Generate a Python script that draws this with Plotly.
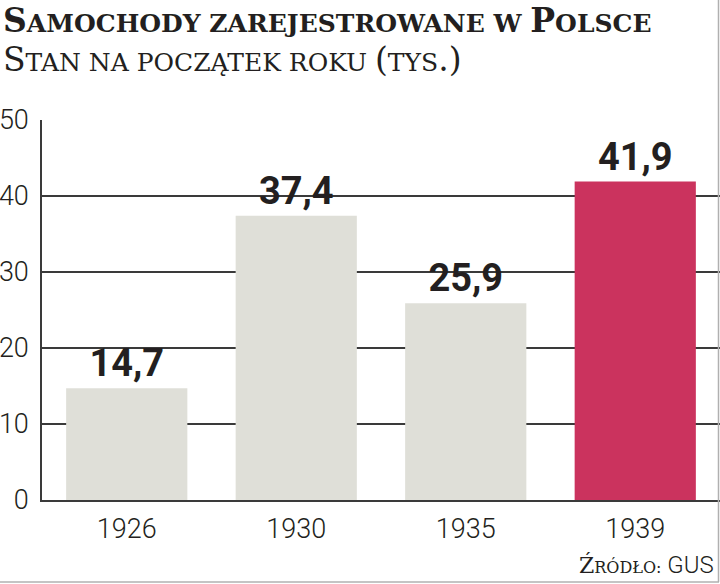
import plotly.graph_objects as go

# ── Data ──────────────────────────────────────────────────────────────────────
years = ["1926", "1930", "1935", "1939"]
cars_k = [14.7, 37.4, 25.9, 41.9]
labels = ["14,7", "37,4", "25,9", "41,9"]
y_ticks = [0, 10, 20, 30, 40, 50]

# ── Palette ───────────────────────────────────────────────────────────────────
GREY_BAR = "#dfdfd8"
RED_BAR = "#cb335e"
INK = "#231f20"
FRAME = "#b0b0b0"
SERIF = "DejaVu Serif"
SANS = "Roboto"

W, H = 720, 584
L, R, T, B = 42, 0, 120, 84
PW, PH = W - L - R, H - T - B


def px_x(p):
    return (p - L) / PW


def px_y(p):
    return (H - B - p) / PH


def small_caps(text, big, small, bold=False):
    # capitals stay large, lower-case letters become smaller capitals
    out = []
    for word in text.split(" "):
        parts = []
        for ch in word:
            if ch.isupper() or not ch.isalpha():
                parts.append(f"<span style='font-size:{big}px'>{ch}</span>")
            else:
                parts.append(f"<span style='font-size:{small}px'>{ch.upper()}</span>")
        out.append("".join(parts))
    s = " ".join(out)
    return f"<b>{s}</b>" if bold else s


colors = [GREY_BAR] * (len(years) - 1) + [RED_BAR]

fig = go.Figure(go.Bar(
    x=years, y=cars_k,
    marker=dict(color=colors, line=dict(width=0)),
    text=labels, textposition="outside", cliponaxis=False,
    textfont=dict(family=SANS, size=38, color=INK, weight="bold"),
    hoverinfo="skip",
))

fig.update_layout(
    width=W, height=H,
    margin=dict(l=L, r=R, t=T, b=B),
    paper_bgcolor="white", plot_bgcolor="white",
    bargap=0.285,
    showlegend=False,
    font=dict(family=SANS, color=INK),
    yaxis=dict(
        range=[0, 50], tickvals=y_ticks,
        showgrid=True, gridcolor="#3a3a3a", gridwidth=1.5,
        showline=True, linecolor="#3a3a3a", linewidth=1.5,
        zeroline=False, ticks="", ticklabelstandoff=6,
        tickfont=dict(family=SANS, size=27, color=INK, weight=300),
    ),
    xaxis=dict(
        showline=True, linecolor="#3a3a3a", linewidth=1.5,
        ticks="", showgrid=False, ticklabelstandoff=4,
        tickfont=dict(family=SANS, size=27, color=INK, weight=300),
    ),
)

fig.add_annotation(
    text=small_caps("Samochody zarejestrowane w Polsce", 33, 25, bold=True),
    xref="paper", yref="paper", x=px_x(1), y=px_y(21),
    xanchor="left", yanchor="middle", showarrow=False,
    font=dict(family=SERIF, color=INK, size=25),
)
fig.add_annotation(
    text=small_caps("Stan na początek roku (tys.)", 33, 25),
    xref="paper", yref="paper", x=px_x(1), y=px_y(60),
    xanchor="left", yanchor="middle", showarrow=False,
    font=dict(family=SERIF, color=INK, size=25),
)
fig.add_annotation(
    text="<span style='font-size:22px'>Ź</span><span style='font-size:16px'>RÓDŁO:</span>"
         f"<span style='font-family:{SANS};font-size:24px;font-weight:300'> GUS</span>",
    xref="paper", yref="paper", x=px_x(716), y=px_y(565),
    xanchor="right", yanchor="middle", showarrow=False,
    font=dict(family=SERIF, color=INK, size=16),
)

# light frame on right and bottom edge
fig.add_shape(type="line", xref="paper", yref="paper",
              x0=px_x(718.5), x1=px_x(718.5), y0=px_y(0), y1=px_y(582),
              line=dict(color=FRAME, width=1.5))
fig.add_shape(type="line", xref="paper", yref="paper",
              x0=px_x(0), x1=px_x(719), y0=px_y(582), y1=px_y(582),
              line=dict(color=FRAME, width=1.5))

# the page's default 8px body margin would push the chart off the canvas
fig.write_html("out.html", config={"displayModeBar": False},
               post_script="document.body.style.margin='0';")
